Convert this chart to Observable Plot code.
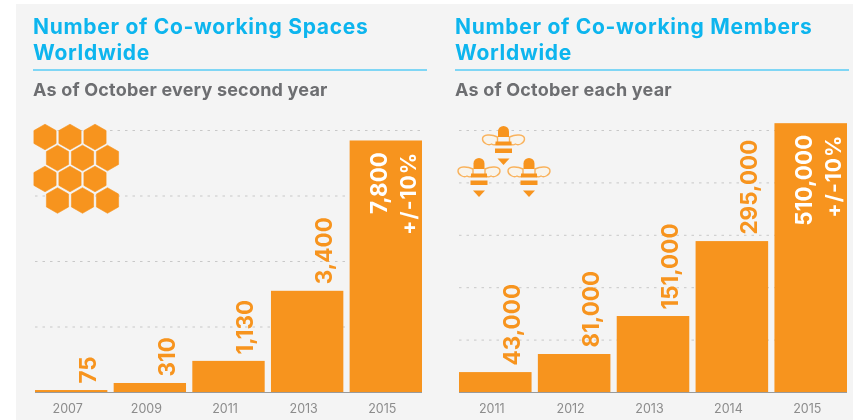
<!DOCTYPE html>
<html><head><meta charset="utf-8">
<script src="https://cdn.jsdelivr.net/npm/d3@7"></script>
<script src="https://cdn.jsdelivr.net/npm/@observablehq/plot@0.6"></script>
<style>
html,body{margin:0;padding:0;background:#fff;width:853px;height:420px;overflow:hidden}
#page{position:absolute;left:0;top:0;width:853px;height:420px;filter:blur(.35px)}
#bg{position:absolute;left:16px;top:4px;width:837px;height:416px;background:#f4f4f4}
.t{position:absolute;font-family:Inter,"Liberation Sans",Arial,sans-serif;font-weight:700}
.title{color:#0db5ee;font-size:21px;line-height:26px;top:14px;letter-spacing:.7px}
.rule{position:absolute;top:69px;height:2px;width:394px;background:#7fd6f5}
.sub{color:#6d6e71;font-size:18px;line-height:22px;top:79px;letter-spacing:.2px}
.plot{position:absolute;top:110px}
svg{overflow:visible}
.icon{position:absolute;left:0;top:0;width:853px;height:420px}
g[aria-label="text"]:last-of-type text{letter-spacing:1px}
</style></head><body>
<div id="page">
<div id="bg"></div>
<div class="t title" style="left:33px">Number of Co-working Spaces<br>Worldwide</div>
<div class="rule" style="left:33px"></div>
<div class="t sub" style="left:33px">As of October every second year</div>
<div class="t title" style="left:455px">Number of Co-working Members<br>Worldwide</div>
<div class="rule" style="left:455px"></div>
<div class="t sub" style="left:455px">As of October each year</div>
<div id="a" class="plot" style="left:0"></div>
<div id="b" class="plot" style="left:430px"></div>
<svg class="icon" id="icons"></svg>
</div>
<script>
const spaceYears = ["2007","2009","2011","2013","2015"];
const spaceLabels = ["75","310","1,130","3,400","7,800"];
// bar lengths as read against the dotted gridlines (2,000 apart)
const spaceBars = [60, 275, 950, 3090, 7680];
const spaceGrid = [2000,4000,6000,8000];

const memberYears = ["2011","2012","2013","2014","2015"];
const memberLabels = ["43,000","81,000","151,000","295,000","510,000"];
// bar lengths as read against the dotted gridlines (100,000 apart)
const memberBars = [38000, 72500, 145000, 288000, 513000];
const memberGrid = [100000,200000,300000,400000,500000];

const orange = "#f7941e";
const font = 'Inter,"Liberation Sans",Arial,sans-serif';

function chart(years, labels, bars, grid, yMax, w, ml, mr, labelDx, insideDx, noteDx, insideY){
  const rows = years.map((year,i)=>({year,label:labels[i],bar:bars[i]}));
  const outside = rows.slice(0,4), last = rows.slice(4);
  return Plot.plot({
    width: w, height: 310,
    marginTop: 20, marginBottom: 28, marginLeft: ml, marginRight: mr,
    style:{background:"transparent",overflow:"visible"},
    x:{domain:years,paddingInner:0.08,paddingOuter:0,round:false,label:null},
    y:{domain:[0,yMax],label:null,axis:null},
    marks:[
      Plot.ruleY(grid,{stroke:"#c8c8c8",strokeDasharray:"2.5,5",strokeWidth:1}),
      Plot.barY(rows,{x:"year",y:"bar",fill:orange}),
      Plot.ruleY([0],{stroke:"#9a9a9a",strokeWidth:1}),
      Plot.axisX({tickSize:0,tickPadding:12,dx:-4,fontSize:12.5,fill:"#8c8c8c",fontFamily:font,label:null}),
      Plot.text(outside,{x:"year",y:"bar",text:"label",rotate:-90,textAnchor:"start",dx:labelDx,dy:-7,
        fontSize:22.5,fontWeight:700,fontFamily:font,fill:orange,lineAnchor:"middle"}),
      Plot.text(last,{x:"year",y:"bar",text:"label",rotate:-90,textAnchor:"end",dx:insideDx,dy:insideY,
        fontSize:22.5,fontWeight:700,fontFamily:font,fill:"#fff",lineAnchor:"middle"}),
      Plot.text(last,{x:"year",y:"bar",text:()=>"+/-10%",rotate:-90,textAnchor:"end",dx:noteDx,dy:insideY,
        fontSize:21,fontWeight:700,fontFamily:font,fill:"#fff",lineAnchor:"middle"})
    ]
  });
}
document.getElementById("a").append(chart(spaceYears,spaceLabels,spaceBars,spaceGrid,8000,427,35,5,17,-7,23,11));
document.getElementById("b").append(chart(memberYears,memberLabels,memberBars,memberGrid,500000,423,29,6,17,-6,23,11));

// decorative icons
const hexCentres = [[45,137],[70,137],[95,137],[57.5,158],[82.5,158],[107.5,158],[45,179],[70,179],[95,179],[57.5,200.5],[82.5,200.5],[107.5,200.5]];
const R = 12.8;
let s = hexCentres.map(([x,y])=>{
  const p = d3.range(6).map(k=>{const a=Math.PI/3*k-Math.PI/2;return (x+R*Math.cos(a)).toFixed(1)+","+(y+R*Math.sin(a)).toFixed(1)}).join(" ");
  return `<polygon points="${p}" fill="${orange}" stroke="${orange}" stroke-width="0.6" stroke-linejoin="round"/>`;
}).join("");
const bee = (x,y)=>`<g transform="translate(${x},${y})">
<path d="M-6 11 C-12 8 -21 8 -21 13 C-21 17 -15 20 -12 18 C-9 20 -6 18 -6 16Z M6 11 C12 8 21 8 21 13 C21 17 15 20 12 18 C9 20 6 18 6 16Z" fill="#f8f4ec" stroke="#f9b25c" stroke-width="1.4"/>
<path d="M-5.5 11 V5.5 A5.5 5.5 0 0 1 5.5 5.5 V11Z" fill="${orange}"/>
<rect x="-8" y="15.5" width="16" height="4" fill="${orange}"/>
<rect x="-8.5" y="22.5" width="17" height="4.5" fill="${orange}"/>
<path d="M-6 32.5 H6 L0 39Z" fill="${orange}"/></g>`;
s += bee(503.5,126)+bee(479,158)+bee(529,158);
document.getElementById("icons").innerHTML = s;
</script>
</body></html>
